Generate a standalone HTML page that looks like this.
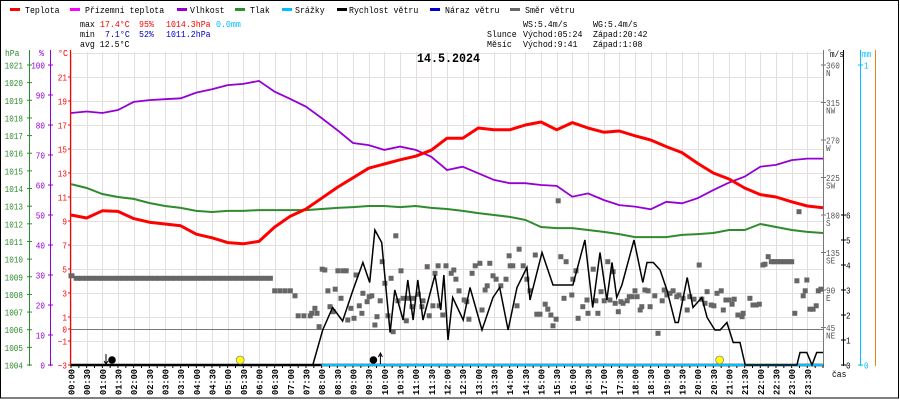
<!DOCTYPE html>
<html><head><meta charset="utf-8">
<style>
html,body{margin:0;padding:0;background:#fff;}
#wrap{position:relative;width:900px;height:400px;overflow:hidden;}
svg{display:block;}
text{font-family:"Liberation Mono",monospace;}
</style></head>
<body>
<div id="wrap">
<svg id="chart" width="900" height="400" viewBox="0 0 900 400"></svg>
</div>
<script>
// ---------- DATA ----------
const halfHourMin = [0,30,60,90,120,150,180,210,240,270,300,330,360,390,420,450,480,510,540,570,600,630,660,690,720,750,780,810,840,870,900,930,960,990,1020,1050,1080,1110,1140,1170,1200,1230,1260,1290,1320,1350,1380,1410,1440];
const temperature = [9.5,9.25,9.85,9.8,9.2,8.9,8.75,8.6,7.9,7.6,7.2,7.1,7.3,8.5,9.4,10.0,10.9,11.8,12.6,13.4,13.75,14.1,14.4,14.9,15.9,15.9,16.75,16.6,16.6,17.0,17.25,16.6,17.2,16.75,16.4,16.5,16.1,15.75,15.2,14.7,13.8,13.0,12.5,11.75,11.2,11.0,10.6,10.25,10.1];
const humidity = [84,84.5,84,85,87.7,88.3,88.6,88.9,90.8,91.9,93.3,93.7,94.7,91.1,88.7,86.1,82.3,78.3,74,73.3,71.7,72.8,71.7,69.4,65,66.1,63.9,61.7,60.6,60.6,60,59.7,56.1,57.2,55,53.3,52.8,51.9,54.4,53.9,55.6,58.3,60.8,62.8,66.1,66.7,68.3,68.8,68.8];
const pressure = [1014.25,1014.03,1013.69,1013.52,1013.41,1013.18,1013.01,1012.9,1012.73,1012.67,1012.73,1012.73,1012.78,1012.78,1012.78,1012.78,1012.84,1012.9,1012.95,1013.01,1013.01,1012.95,1013.01,1012.9,1012.84,1012.73,1012.61,1012.5,1012.39,1012.22,1011.82,1011.76,1011.76,1011.65,1011.54,1011.42,1011.25,1011.25,1011.25,1011.37,1011.42,1011.48,1011.65,1011.65,1011.99,1011.82,1011.65,1011.54,1011.48];
const windMin = [0,463,482,501,520,540,559,572,582,595,611,620,636,645,655,664,674,688,697,708,714,722,731,751,764,787,808,821,837,854,873,879,902,923,961,984,999,1013,1026,1036,1045,1055,1078,1095,1103,1115,1128,1141,1157,1163,1180,1191,1208,1218,1233,1243,1256,1268,1281,1291,1390,1396,1409,1419,1428,1440];
const windSpeed = [0,0,1.4,2.3,1.76,3.0,4.1,3.3,5.4,4.9,1.3,3.0,1.8,3.4,1.8,3.4,1.8,2.9,3.6,2.2,3.6,1.0,2.7,1.8,3.1,1.4,2.7,3.1,1.4,3.1,3.9,2.6,4.5,3.2,3.2,5.0,2.3,4.5,2.6,4.1,2.7,3.2,5.0,3.3,4.1,4.1,3.8,3.0,1.7,1.7,3.5,2.3,2.7,1.9,1.4,1.4,1.7,0.9,0.9,0,0,0.5,0.5,0,0.5,0.5];
const dirMin = [0,10,20,30,40,50,60,70,80,90,100,110,120,130,140,150,160,170,180,190,200,210,220,230,240,250,260,270,280,290,300,310,320,330,340,350,360,370,380,
390,400,410,420,429,435,446,458,461,467,471,475,481,486,492,496,502,506,511,521,527,517,530,536,542,546,552,557,559,567,571,576,582,586,592,596,601,607,613,617,622,626,632,636,642,645,653,655,665,672,674,682,686,693,697,703,705,
712,718,728,733,737,743,753,758,762,768,774,783,787,793,797,802,808,814,823,833,839,841,846,854,858,866,873,879,889,892,898,908,913,919,923,929,933,938,944,948,959,961,967,971,980,988,990,1000,1005,1009,1015,1021,1028,1032,1038,1042,1048,1053,1057,1065,1069,1074,1080,1084,1090,1093,1099,1105,1109,1118,1124,1132,1136,1141,1147,1153,1160,1164,1172,1180,1185,1193,1203,1208,1214,1218,1226,1231,1237,1245,1249,1254,1260,1266,1270,1277,1285,1287,1300,1306,1312,1318,1325,1329,1335,1341,1345,1350,1355,1360,1365,1370,1375,1380,1386,1390,1394,1402,1406,1409,1415,1421,1427,1431,1436];
const dirDeg = [107,104,104,104,104,104,104,104,104,104,104,104,104,104,104,104,104,104,104,104,104,104,104,104,104,104,104,104,104,104,104,104,104,104,104,104,104,104,104,
89,89,89,89,83,59,59,59,62,68,62,46,115,114,89,70,64,91,113,113,113,80,54,68,56,108,71,62,86,76,82,83,48,58,77,124,98,59,104,40,155,77,113,80,53,80,70,80,85,70,77,118,59,71,110,119,71,
60,119,110,114,103,89,78,76,55,110,119,122,66,90,95,122,107,103,95,103,131,119,119,71,139,119,103,89,132,61,61,73,67,60,47,55,197,130,80,124,84,103,113,56,70,78,62,115,77,62,88,77,124,78,112,74,64,76,74,77,82,82,89,82,66,70,90,89,70,83,38,77,90,84,86,89,82,84,80,66,82,79,120,79,74,88,72,71,86,89,66,78,78,73,79,60,58,62,80,72,72,73,120,121,130,124,124,124,124,124,124,124,124,124,62,101,184,83,89,102,67,67,71,89,91];
const hourLabels = ["00:00","00:30","01:00","01:30","02:00","02:30","03:00","03:30","04:00","04:30","05:00","05:30","06:00","06:30","07:00","07:30","08:00","08:30","09:00","09:30","10:00","10:30","11:00","11:30","12:00","12:30","13:00","13:30","14:00","14:30","15:00","15:30","16:00","16:30","17:00","17:30","18:00","18:30","19:00","19:30","20:00","20:30","21:00","21:30","22:00","22:30","23:00","23:30"];
const hpaTicks = [1004,1005,1006,1007,1008,1009,1010,1011,1012,1013,1014,1015,1016,1017,1018,1019,1020,1021];
const pctTicks = [0,10,20,30,40,50,60,70,80,90,100];
const tempTicks = [21,19,17,15,13,11,9,7,5,3,1,0,-1,-3];
const dirTicks = [360,315,270,225,180,135,90,45];
const dirNames = ["N","NW","W","SW","S","SE","E","NE"];
const msTicks = [0,1,2,3,4,5,6];
const mmTicks = [0,1];

// ---------- SCALES ----------
const X0=71, X1=823, YB=365, YT=52;
const xS = m => X0 + m/1440*(X1-X0);
const yC = t => 329 - 12*t;
const yP = p => YB - (p-1004)*300/17;
const yH = h => YB - 3*h;
const yD = d => YB - d*300/360;
const yW = v => YB - 25*v;

const NS="http://www.w3.org/2000/svg";
const svg=document.getElementById('chart');
function el(tag, attrs, parent){const e=document.createElementNS(NS,tag);for(const k in attrs)e.setAttribute(k,attrs[k]);(parent||svg).appendChild(e);return e;}
function txt(x,y,s,fill,anchor,size,cw,weight){
  const e=el('text',{x:x,y:y,fill:fill,'font-size':size||9,'text-anchor':anchor||'start'});
  if(cw){e.setAttribute('textLength',(s.length*cw).toFixed(1));e.setAttribute('lengthAdjust','spacingAndGlyphs');}
  if(weight)e.setAttribute('font-weight',weight);
  e.textContent=s;return e;
}

// border
let b=el('rect',{x:0.5,y:0.5,width:898,height:397.5,fill:'none',stroke:'#000','stroke-width':1});



// ---------- GRID ----------
const grid=el('g',{});


for(let i=0;i<hourLabels.length;i++){
  const x=Math.round(xS(i*30))+0.5;
  el('line',{x1:x,y1:YT,x2:x,y2:YB,stroke:'#e4dede','stroke-width':1},grid);
}
for(let t=23;t>=-1;t-=2){
  const y=Math.round(yC(t))+0.5;
  el('line',{x1:X0,y1:y,x2:X1,y2:y,stroke:'#e4dede','stroke-width':1},grid);
}
let zl=el('line',{x1:X0,y1:329.5,x2:X1,y2:329.5,stroke:'#777','stroke-width':1});



// ---------- LEGEND ----------
const legendItems=[["Teplota","#ff0000",10,25],["Přízemní teplota","#ff00ff",70,85],["Vlhkost","#9400d3",177,190],["Tlak","#2e8b2e",235,250],["Srážky","#00bfff",282,295],["Rychlost větru","#000000",337,349],["Náraz větru","#0000cc",430,445],["Směr větru","#666666",510,525]];
legendItems.forEach(it=>{
  const g=el('g',{});
  
  
  el('rect',{x:it[2],y:8,width:10,height:3,fill:it[1]},g);
  g.appendChild(txt(it[3],13,it[0],'#000','start',9,4.95));
});

// stats
const stats=el('g',{});


[[80,27,"max","#000"],[100,27,"17.4°C","#ff0000"],[139,27,"95%","#ff0000"],[166,27,"1014.3hPa","#ff0000"],[216,27,"0.0mm","#00bfff"],
 [80,37,"min","#000"],[105,37,"7.1°C","#0000cc"],[139,37,"52%","#0000cc"],[166,37,"1011.2hPa","#0000cc"],
 [80,47,"avg 12.5°C","#000"],
 [523,27,"WS:5.4m/s","#000"],[593,27,"WG:5.4m/s","#000"],
 [487,37,"Slunce","#000"],[523,37,"Východ:05:24","#000"],[593,37,"Západ:20:42","#000"],
 [487,47,"Měsíc","#000"],[523,47,"Východ:9:41","#000"],[593,47,"Západ:1:08","#000"]].forEach(s=>{stats.appendChild(txt(s[0],s[1],s[2],s[3],'start',9,4.95));});
let title=txt(417,62,"14.5.2024","#000",'start',13,7,'bold');



// ---------- LEFT AXES ----------
const axH=el('g',{});


el('line',{x1:29.5,y1:50,x2:29.5,y2:366,stroke:'#2e8b2e','stroke-width':1},axH);
axH.appendChild(txt(5,56,"hPa","#2e8b2e",'start',9,4.8));
hpaTicks.forEach(p=>{const y=yP(p);el('line',{x1:27,y1:y,x2:32,y2:y,stroke:'#2e8b2e'},axH);axH.appendChild(txt(23,y+3.5,String(p),"#2e8b2e",'end',9,4.6));});
const axPc=el('g',{});


el('line',{x1:50.5,y1:50,x2:50.5,y2:366,stroke:'#9400d3','stroke-width':1},axPc);
axPc.appendChild(txt(39,56,"%","#9400d3",'start',9,5));
pctTicks.forEach(p=>{const y=yH(p);el('line',{x1:48,y1:y,x2:53,y2:y,stroke:'#9400d3'},axPc);axPc.appendChild(txt(45,y+3.5,String(p),"#9400d3",'end',9,4.6));});
const axT=el('g',{});


el('line',{x1:70.5,y1:50,x2:70.5,y2:366,stroke:'#ff0000','stroke-width':1.2},axT);
axT.appendChild(txt(58,56,"°C","#ff0000",'start',9,5));
tempTicks.forEach(t=>{const y=yC(t);el('line',{x1:68,y1:y,x2:71,y2:y,stroke:'#ff0000'},axT);axT.appendChild(txt(67,y+3.5,String(t).replace('-','−'),"#ff0000",'end',9,4.6));});

// ---------- RIGHT AXES ----------
const axD=el('g',{});


el('line',{x1:823.5,y1:50,x2:823.5,y2:366,stroke:'#777','stroke-width':1},axD);
axD.appendChild(txt(827,55,"°","#555",'start',9,5));
dirTicks.forEach((d,i)=>{const y=yD(d);el('line',{x1:821,y1:y,x2:826,y2:y,stroke:'#777'},axD);axD.appendChild(txt(826,y+3.5,String(d),"#555",'start',9,4.6));axD.appendChild(txt(826,y+11,dirNames[i],"#555",'start',9,4.6*dirNames[i].length/dirNames[i].length));});
const axW=el('g',{});


el('line',{x1:843.5,y1:50,x2:843.5,y2:366,stroke:'#000','stroke-width':1},axW);
axW.appendChild(txt(830,57,"m/s","#000",'start',9,4.6));
msTicks.forEach(v=>{const y=yW(v);el('line',{x1:841,y1:y,x2:846,y2:y,stroke:'#000'},axW);axW.appendChild(txt(846,y+3.5,String(v),"#000",'start',9,4.6));});
const axM=el('g',{});


el('line',{x1:860.5,y1:50,x2:860.5,y2:366,stroke:'#00bfff','stroke-width':1},axM);
axM.appendChild(txt(862,57,"mm","#00bfff",'start',9,4.6));
mmTicks.forEach(v=>{const y=YB-300*v;el('line',{x1:858,y1:y,x2:863,y2:y,stroke:'#00bfff'},axM);axM.appendChild(txt(864,y+3.5,String(v),"#00bfff",'start',9,4.6));});
let orl=el('line',{x1:875.5,y1:50,x2:875.5,y2:366,stroke:'#e8801a','stroke-width':1});



// ---------- X AXIS ----------
const axX=el('g',{});


hourLabels.forEach((s,i)=>{
  const x=xS(i*30);
  const t=txt(0,0,s,"#000",'end',9,5.2,'bold');
  t.setAttribute('transform','translate('+(x+3.5).toFixed(1)+',369) rotate(-90)');
  axX.appendChild(t);
});
for(let i=0;i<=96;i++){const x=xS(i*15);el('line',{x1:x,y1:365,x2:x,y2:368,stroke:'#000','stroke-width':1},axX);}
axX.appendChild(txt(832,377,"čas","#000",'start',9,4.8));

// ---------- SERIES ----------
function pathFrom(xs,ys){return xs.map((x,i)=>(i?'L':'M')+x.toFixed(1)+' '+ys[i].toFixed(1)).join(' ');}

// wind direction scatter
const dirG=el('g',{});


dirMin.forEach((m,i)=>{
  const r=el('rect',{x:(xS(m)-2.5).toFixed(1),y:(yD(dirDeg[i])-2.5).toFixed(1),width:m<390?6:5,height:5,fill:'#666'},dirG);
  
  
});

let pr=el('path',{d:pathFrom(halfHourMin.map(xS),pressure.map(yP)),fill:'none',stroke:'#2e8b2e','stroke-width':2});


let hu=el('path',{d:pathFrom(halfHourMin.map(xS),humidity.map(yH)),fill:'none',stroke:'#9400d3','stroke-width':1.8});


let te=el('path',{d:pathFrom(halfHourMin.map(xS),temperature.map(yC)),fill:'none',stroke:'#ff0000','stroke-width':3,'stroke-linejoin':'round'});



// baseline + rain
let bl=el('line',{x1:X0,y1:365,x2:X1,y2:365,stroke:'#000','stroke-width':2.5});


let rn=el('line',{x1:xS(480),y1:365,x2:X1,y2:365,stroke:'#00bfff','stroke-width':2});



let ws=el('path',{d:pathFrom(windMin.map(xS),windSpeed.map(yW)),fill:'none',stroke:'#000','stroke-width':1.5});



// sun / moon markers
function arrow(x,up){const g=el('g',{});el('line',{x1:x,y1:354,x2:x,y2:364,stroke:'#000'},g);
  if(up)el('path',{d:'M'+(x-2)+' 357 L'+x+' 353 L'+(x+2)+' 357',fill:'none',stroke:'#000'},g);
  else el('path',{d:'M'+(x-2)+' 361 L'+x+' 364 L'+(x+2)+' 361',fill:'none',stroke:'#000'},g);return g;}
let ms=el('circle',{cx:xS(68)+5.5,cy:360,r:3.8,fill:'#000'});


let ma=arrow(xS(68)-0.5,false);


let sr=el('circle',{cx:xS(324),cy:360,r:4,fill:'#ffff00',stroke:'#888','stroke-width':0.8});


let mr=el('circle',{cx:xS(581)-1,cy:360,r:3.8,fill:'#000'});


let mra=arrow(xS(581)+6,true);


let ss=el('circle',{cx:xS(1242),cy:360,r:4,fill:'#ffff00',stroke:'#888','stroke-width':0.8});


</script>
</body></html>
